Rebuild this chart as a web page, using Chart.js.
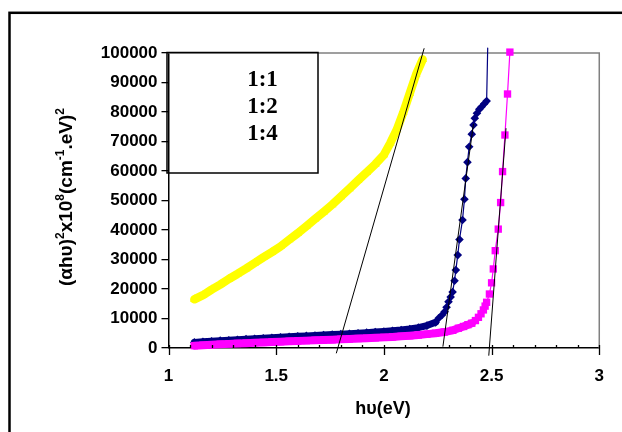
<!DOCTYPE html>
<html>
<head>
<meta charset="utf-8">
<script src="https://cdn.jsdelivr.net/npm/chart.js@4.4.1/dist/chart.umd.min.js"></script>
<style>
  html, body { margin: 0; padding: 0; background: #fff; }
  #chart { display: block; }
</style>
</head>
<body>
<canvas id="chart" width="622" height="432"></canvas>
<script>
// ---- data ----
const seriesLabels = ['1:1', '1:2', '1:4'];

const yellowX = [1.12, 1.16, 1.20, 1.24, 1.28, 1.32, 1.36, 1.40, 1.44, 1.48, 1.52, 1.56, 1.60, 1.64, 1.68,
    1.72, 1.76, 1.80, 1.84, 1.88, 1.92, 1.96, 2.00, 2.03, 2.06, 2.09, 2.12, 2.15, 2.18];
const yellowY = [16500, 17900, 19800, 21500, 23400, 25100, 26900, 28800, 30700, 32500, 34400, 36700, 38900, 41300, 43700,
    46100, 48600, 51300, 54000, 56800, 59500, 62300, 65500, 69500, 74000, 79800, 86300, 92800, 97800];

const navyX = [1.12, 1.16, 1.20, 1.24, 1.28, 1.32, 1.36, 1.40, 1.44, 1.48, 1.52, 1.56, 1.60, 1.64, 1.68,
    1.72, 1.76, 1.80, 1.84, 1.88, 1.92, 1.96, 2.00, 2.04, 2.08, 2.12, 2.16, 2.20, 2.24,
    2.254, 2.27, 2.282, 2.291, 2.300, 2.310, 2.319, 2.328, 2.334, 2.343, 2.351, 2.365, 2.374, 2.380,
    2.388, 2.396, 2.408, 2.416, 2.422, 2.432, 2.443, 2.454, 2.466, 2.477, 2.482];
const navyY = [1900, 2100, 2300, 2500, 2650, 2800, 3000, 3150, 3300, 3500, 3650, 3800, 3950, 4100, 4250,
    4400, 4550, 4700, 4850, 5000, 5200, 5400, 5600, 5850, 6100, 6450, 6900, 7600, 8700,
    10100, 11200, 12300, 13800, 15700, 17300, 19000, 22800, 26400, 31500, 36800, 43400, 50400, 57500,
    63000, 68200, 72500, 75600, 77900, 79600, 80900, 81800, 82800, 83700, 101700];

const magentaX = [1.12, 1.16, 1.20, 1.24, 1.28, 1.32, 1.36, 1.40, 1.44, 1.48, 1.52, 1.56, 1.60, 1.64, 1.68,
    1.72, 1.76, 1.80, 1.84, 1.88, 1.92, 1.96, 2.00, 2.04, 2.08, 2.12, 2.16, 2.20, 2.24, 2.28, 2.32,
    2.346, 2.37, 2.39, 2.408, 2.425, 2.439, 2.451, 2.462, 2.470, 2.477, 2.490, 2.500, 2.508, 2.517,
    2.531, 2.542, 2.551, 2.562, 2.574, 2.585];
const magentaY = [800, 950, 1100, 1250, 1400, 1550, 1650, 1800, 1900, 2050, 2150, 2250, 2400, 2500, 2600,
    2700, 2800, 2950, 3050, 3200, 3300, 3450, 3600, 3750, 3950, 4150, 4400, 4700, 5000, 5400, 6000,
    6700, 7300, 7900, 8400, 9300, 10400, 11600, 12900, 14200, 15500, 18300, 22100, 26800, 33000,
    40300, 49300, 59800, 72200, 86100, 100300];

// tangent lines (end points)
const fitYellowX = [1.779, 2.187];
const fitYellowY = [-1800, 101600];
const fitNavyX = [2.274, 2.416];
const fitNavyY = [450, 76000];
const fitMagentaX = [2.487, 2.567];
const fitMagentaY = [-2600, 74500];

const xTickLabels = ['1', '1.5', '2', '2.5', '3'];
const yTickLabels = ['0', '10000', '20000', '30000', '40000', '50000', '60000', '70000', '80000', '90000', '100000'];

const toPoints = (xs, ys) => xs.map((x, i) => ({ x: x, y: ys[i] }));

// ---- drawing helpers ----
const FONT = '"Liberation Sans", Arial, sans-serif';

const framePlugin = {
    id: 'frame',
    beforeDraw(chart) {
        const ctx = chart.ctx;
        ctx.save();
        ctx.fillStyle = '#ffffff';
        ctx.fillRect(0, 0, chart.width, chart.height);
        ctx.strokeStyle = '#000000';
        ctx.lineWidth = 2.5;
        ctx.strokeRect(9.5, 12.8, 700, 500);
        ctx.restore();
    },
    beforeDatasetsDraw(chart) {
        const ctx = chart.ctx;
        const a = chart.chartArea;
        ctx.save();
        ctx.strokeStyle = '#808080';
        ctx.lineWidth = 1.5;
        ctx.beginPath();
        ctx.moveTo(a.left, a.top);
        ctx.lineTo(a.right, a.top);
        ctx.lineTo(a.right, a.bottom);
        ctx.stroke();
        ctx.restore();
    },
    afterDraw(chart) {
        const ctx = chart.ctx;
        const a = chart.chartArea;
        const xs = chart.scales.x;
        ctx.save();

        // x ticks: major outward, minor inward
        ctx.strokeStyle = '#000000';
        ctx.lineWidth = 1.3;
        ctx.beginPath();
        for (let v = 10; v <= 30; v++) {
            const px = Math.round(xs.getPixelForValue(v / 10)) + 0.5;
            const major = v % 5 === 0;
            ctx.moveTo(px, a.bottom - 3);
            ctx.lineTo(px, major ? a.bottom + 7 : a.bottom);
        }
        ctx.stroke();

        // legend box
        ctx.lineWidth = 1.5;
        ctx.strokeRect(167, 52.5, 151, 120.5);
        ctx.fillStyle = '#000000';
        ctx.font = 'bold 23px "Liberation Serif", "Times New Roman", serif';
        ctx.textAlign = 'center';
        ctx.textBaseline = 'alphabetic';
        seriesLabels.forEach((lbl, i) => ctx.fillText(lbl, 262.5, 86 + i * 27));

        // x title
        ctx.font = 'bold 18px ' + FONT;
        ctx.textBaseline = 'middle';
        ctx.fillText('h\u03C5(eV)', 383, 409);

        // y title with superscripts
        const parts = [
            ['(\u03B1h\u03C5)', false], ['2', true], ['x10', false], ['8', true],
            ['(cm', false], ['-1', true], ['.eV)', false], ['2', true]
        ];
        const mainFont = 'bold 19px ' + FONT;
        const supFont = 'bold 12px ' + FONT;
        let total = 0;
        parts.forEach(([t, sup]) => {
            ctx.font = sup ? supFont : mainFont;
            total += ctx.measureText(t).width;
        });
        ctx.translate(66, 197);
        ctx.rotate(-Math.PI / 2);
        ctx.textAlign = 'left';
        ctx.textBaseline = 'alphabetic';
        let cx = -total / 2;
        parts.forEach(([t, sup]) => {
            ctx.font = sup ? supFont : mainFont;
            ctx.fillText(t, cx, sup ? -2 : 6);
            cx += ctx.measureText(t).width;
        });
        ctx.restore();
    }
};

const ctx = document.getElementById('chart');

new Chart(ctx, {
    type: 'scatter',
    data: {
        datasets: [
            {
                label: 'fit 1:1', data: toPoints(fitYellowX, fitYellowY),
                showLine: true, borderColor: '#000000', borderWidth: 1, pointRadius: 0, order: 0, clip: false
            },
            {
                label: 'fit 1:2', data: toPoints(fitNavyX, fitNavyY),
                showLine: true, borderColor: '#000000', borderWidth: 1, pointRadius: 0, order: 0, clip: false
            },
            {
                label: 'fit 1:4', data: toPoints(fitMagentaX, fitMagentaY),
                showLine: true, borderColor: '#000000', borderWidth: 1, pointRadius: 0, order: 0, clip: false
            },
            {
                label: seriesLabels[2], data: toPoints(magentaX, magentaY),
                showLine: true, borderColor: '#FF00FF', backgroundColor: '#FF00FF',
                borderWidth: 1.2, borderCapStyle: 'round', borderJoinStyle: 'round',
                segment: {
                    borderWidth: c => (c.p0.parsed.y < 9000 && c.p1.parsed.y < 9000) ? 8 : 1.2
                },
                pointStyle: 'rect', pointRadius: 5.2, pointBorderWidth: 0, order: 1, clip: false
            },
            {
                label: seriesLabels[1], data: toPoints(navyX, navyY),
                showLine: true, borderColor: '#000080', backgroundColor: '#000080',
                borderWidth: 1.2, borderCapStyle: 'round', borderJoinStyle: 'round',
                segment: {
                    borderWidth: c => (c.p0.parsed.y < 9000 && c.p1.parsed.y < 9000) ? 7 : 1.2
                },
                pointStyle: 'rectRot',
                pointRadius: c => (c.raw && c.raw.y > 100000) ? 0 : 4.3,
                pointBorderWidth: 0, order: 2, clip: false
            },
            {
                label: seriesLabels[0], data: toPoints(yellowX, yellowY),
                showLine: true, borderColor: '#FFFF00', backgroundColor: '#FFFF00',
                borderWidth: 8.5, borderCapStyle: 'round', borderJoinStyle: 'round',
                pointStyle: 'triangle', pointRadius: 5, pointBorderWidth: 0, order: 3, clip: false
            }
        ]
    },
    options: {
        responsive: false,
        animation: false,
        devicePixelRatio: 1,
        layout: { padding: { left: 30, right: 22, top: 53, bottom: 0 } },
        plugins: {
            legend: { display: false },
            tooltip: { enabled: false }
        },
        elements: { line: { tension: 0 } },
        scales: {
            x: {
                type: 'linear', min: 1, max: 3,
                afterFit: s => { s.height = 84; },
                border: { color: '#000000', width: 1.5 },
                grid: { display: true, drawOnChartArea: false, drawTicks: false, color: '#000000' },
                ticks: {
                    stepSize: 0.5, padding: 18, color: '#000000',
                    font: { family: FONT, size: 17, weight: 'bold' },
                    callback: (v, i) => xTickLabels[i]
                }
            },
            y: {
                type: 'linear', min: 0, max: 100000,
                afterFit: s => { s.width = 138.5; },
                border: { color: '#000000', width: 1.5 },
                grid: { display: true, drawOnChartArea: false, drawTicks: true, tickLength: 7, color: '#000000', lineWidth: 1.3 },
                ticks: {
                    stepSize: 10000, padding: 4, color: '#000000',
                    font: { family: FONT, size: 17, weight: 'bold' },
                    callback: (v, i) => yTickLabels[i]
                }
            }
        }
    },
    plugins: [framePlugin]
});
</script>
</body>
</html>
